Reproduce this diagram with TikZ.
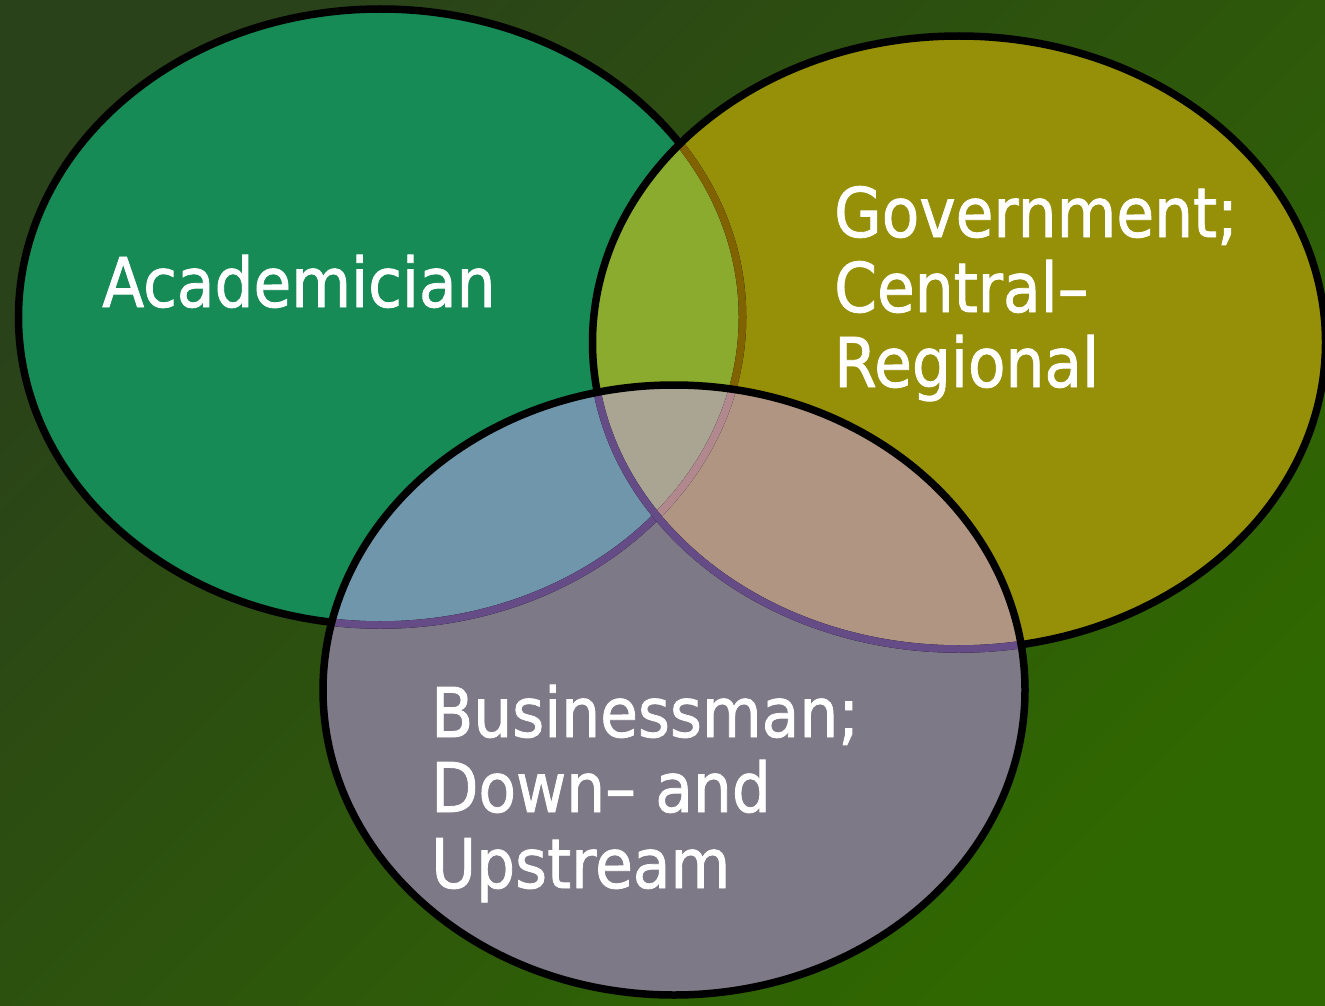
\documentclass[tikz,border=0pt]{standalone}
\usepackage{fontspec}
\newfontfamily\labfont[FakeStretch=0.895,FakeBold=1.2]{DejaVu Sans}
\definecolor{bgTL}{HTML}{2A4219}
\definecolor{bgBR}{HTML}{306800}
\definecolor{colA}{HTML}{178B56}
\definecolor{colG}{HTML}{968F08}
\definecolor{colB}{HTML}{7E7986}
\definecolor{colAG}{HTML}{8AAB2D}
\definecolor{colAB}{HTML}{7096AB}
\definecolor{colGB}{HTML}{B09582}
\definecolor{colAGB}{HTML}{A9A592}
\definecolor{lnBrown}{HTML}{806200}
\definecolor{lnPurple}{HTML}{654C86}
\definecolor{lnPink}{HTML}{B0888E}
\tikzset{
  outline/.style={line width=7.5pt},
  lab/.style={anchor=base west, inner sep=0pt, text=white,
    font=\labfont\fontsize{68.6}{76}\selectfont}
}
\def\ellA{(380.5,317) ellipse [x radius=362pt, y radius=308pt]}
\def\ellG{(959,342.5) ellipse [x radius=366.5pt, y radius=306.5pt]}
\def\ellB{(674,690) ellipse [x radius=351pt, y radius=305pt]}
\begin{document}
\begin{tikzpicture}[x=1pt,y=-1pt]
\useasboundingbox (0,0) rectangle (1325,1006);
\shade[top color=bgTL, bottom color=bgBR, shading angle=45] (0,0) rectangle (1325,1006);
% region fills
\fill[colA] \ellA;
\fill[colG] \ellG;
\fill[colB] \ellB;
\begin{scope}\clip \ellA; \fill[colAG] \ellG; \end{scope}
\begin{scope}\clip \ellA; \fill[colAB] \ellB; \end{scope}
\begin{scope}\clip \ellG; \fill[colGB] \ellB; \end{scope}
\begin{scope}\clip \ellA; \clip \ellG; \fill[colAGB] \ellB; \end{scope}
% outline of A
\draw[outline, black] \ellA;
\begin{scope}\clip \ellG; \draw[outline, lnBrown] \ellA; \end{scope}
\begin{scope}\clip \ellB; \draw[outline, lnPurple] \ellA; \end{scope}
\begin{scope}\clip \ellG; \clip \ellB; \draw[outline, lnPink] \ellA; \end{scope}
% outline of G
\draw[outline, black] \ellG;
\begin{scope}\clip \ellB; \draw[outline, lnPurple] \ellG; \end{scope}
% outline of B
\draw[outline, black] \ellB;
% labels
\node[lab] (aca) at (102,307) {Academician};
\node[lab] (gov1) at (834,237) {Government;};
\node[lab] (gov2) at (834,312) {Central–};
\node[lab] (gov3) at (834,387) {Regional};
\node[lab] (bus1) at (431,737) {Businessman;};
\node[lab] (bus2) at (431,812) {Down– and};
\node[lab] (bus3) at (431,888) {Upstream};
\end{tikzpicture}
\end{document}
